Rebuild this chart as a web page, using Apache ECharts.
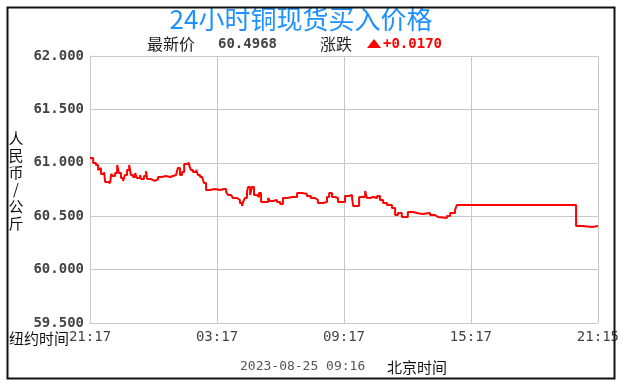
<!DOCTYPE html>
<html>
<head>
<meta charset="utf-8">
<script src="https://cdn.jsdelivr.net/npm/echarts@6/dist/echarts.min.js"></script>
<style>
html,body{margin:0;padding:0;background:#fff;}
#c{width:622px;height:385px;}
</style>
</head>
<body>
<div id="c"></div>
<script>
// minutes since 21:17 (New York time)
var minutes = [0,9,17,23,28,31,40,43,51,57,60,65,71,77,82,88,94,99,105,111,116,122,128,133,142,145,153,159,162,173,184,193,204,215,227,235,244,249,255,261,267,275,281,286,292,301,306,312,318,323,329,340,354,369,380,386,391,400,405,417,425,431,434,439,445,448,454,459,465,473,479,485,496,505,510,519,530,539,547,558,575,587,601,615,626,638,646,661,672,678,686,695,703,714,723,734,743,746,757,763,774,780,785,794,802,814,822,831,842,856,865,873,884,901,916,927,941,964,978,986,1012,1021,1035,1040,1378,1398,1423,1440];
var prices = [61.045,60.998,60.979,60.933,60.951,60.895,60.914,60.820,60.811,60.820,60.895,60.876,60.904,60.979,60.904,60.858,60.830,60.886,60.933,60.979,60.886,60.867,60.904,60.858,60.886,60.848,60.876,60.923,60.848,60.830,60.848,60.867,60.876,60.867,60.876,60.886,60.904,60.951,60.886,60.914,60.989,60.998,60.979,60.933,60.914,60.933,60.886,60.867,60.858,60.811,60.745,60.755,60.745,60.755,60.755,60.727,60.698,60.680,60.670,60.652,60.624,60.596,60.633,60.670,60.727,60.773,60.698,60.773,60.698,60.680,60.717,60.633,60.633,60.670,60.642,60.652,60.633,60.614,60.670,60.680,60.680,60.717,60.708,60.689,60.670,60.652,60.624,60.633,60.680,60.717,60.680,60.670,60.633,60.633,60.689,60.698,60.670,60.596,60.596,60.680,60.680,60.736,60.670,60.680,60.670,60.689,60.652,60.624,60.605,60.577,60.511,60.530,60.493,60.539,60.530,60.521,60.530,60.511,60.493,60.483,60.502,60.530,60.558,60.605,60.408,60.399,60.408,60.408];
var xTickMinutes = [0,360,720,1080,1440];
var xTickLabels = ['21:17','03:17','09:17','15:17','21:15'];
var yTicks = [59.5,60.0,60.5,61.0,61.5,62.0];
var titleText = '24小时铜现货买入价格';
var latestLabel = '最新价', latestValue = '60.4968';
var changeLabel = '涨跌', changeValue = '+0.0170';
var dateText = '2023-08-25 09:16', zoneText = '北京时间', nyText = '纽约时间';
var yName = '人民币/公斤';

var data = minutes.map(function(m,i){return [m, prices[i]];});
var chart = echarts.init(document.getElementById('c'), null, {renderer:'canvas'});
var mono = '"DejaVu Sans Mono", monospace';
var cjk = '"Noto Sans CJK SC", sans-serif';
chart.setOption({
  backgroundColor:'#fff',
  animation:false,
  grid:{left:90, top:56, width:508, height:267, show:false},
  xAxis:{
    type:'value', min:0, max:1440, interval:360,
    axisLine:{show:true, lineStyle:{color:'#c8c8c8', width:1}},
    axisTick:{show:false},
    splitLine:{show:true, lineStyle:{color:'#c8c8c8', width:1}},
    axisLabel:{color:'#444', fontFamily:mono, fontSize:14, margin:7,
      formatter:function(v){var i=xTickMinutes.indexOf(v); return i>=0?xTickLabels[i]:'';}}
  },
  yAxis:{
    type:'value', min:yTicks[0], max:yTicks[yTicks.length-1], interval:0.5,
    axisLine:{show:true, lineStyle:{color:'#c8c8c8', width:1}},
    axisTick:{show:false},
    splitLine:{show:true, lineStyle:{color:'#c8c8c8', width:1}},
    axisLabel:{color:'#444', fontFamily:mono, fontWeight:'bold', fontSize:14, margin:6,
      formatter:function(v){return v.toFixed(3);}}
  },
  series:[{
    type:'line', data:data, step:'end', showSymbol:false,
    lineStyle:{color:'#ff0000', width:2}, itemStyle:{color:'#ff0000'}
  }],
  graphic:[
    {type:'rect', shape:{x:7.5,y:7.5,width:607,height:371}, style:{fill:'none', stroke:'#111', lineWidth:2}, z:100},
    {type:'text', x:301, y:19, style:{text:titleText, fill:'#1e90ff', font:'26px '+cjk, textAlign:'center', textVerticalAlign:'middle'}},
    {type:'text', x:147, y:44, style:{text:latestLabel, fill:'#222', font:'16px '+cjk, textVerticalAlign:'middle'}},
    {type:'text', x:218, y:44, style:{text:latestValue, fill:'#444', font:'bold 14px '+mono, textVerticalAlign:'middle'}},
    {type:'text', x:320, y:44, style:{text:changeLabel, fill:'#222', font:'16px '+cjk, textVerticalAlign:'middle'}},
    {type:'polygon', shape:{points:[[367,48],[381,48],[374,39]]}, style:{fill:'#ff0000'}},
    {type:'text', x:383, y:44, style:{text:changeValue, fill:'#ff0000', font:'bold 14px '+mono, textVerticalAlign:'middle'}},
    {type:'text', x:9, y:338, style:{text:nyText, fill:'#111', font:'15px '+cjk, textVerticalAlign:'middle'}},
    {type:'text', x:16, y:130, style:{text:yName.split('').join('\n'), fill:'#111', font:'15px '+cjk, textAlign:'center', lineHeight:17}},
    {type:'text', x:240, y:367, style:{text:dateText, fill:'#555', font:'13px '+mono, textVerticalAlign:'middle'}},
    {type:'text', x:387, y:367, style:{text:zoneText, fill:'#111', font:'15px '+cjk, textVerticalAlign:'middle'}}
  ]
});
</script>
</body>
</html>
